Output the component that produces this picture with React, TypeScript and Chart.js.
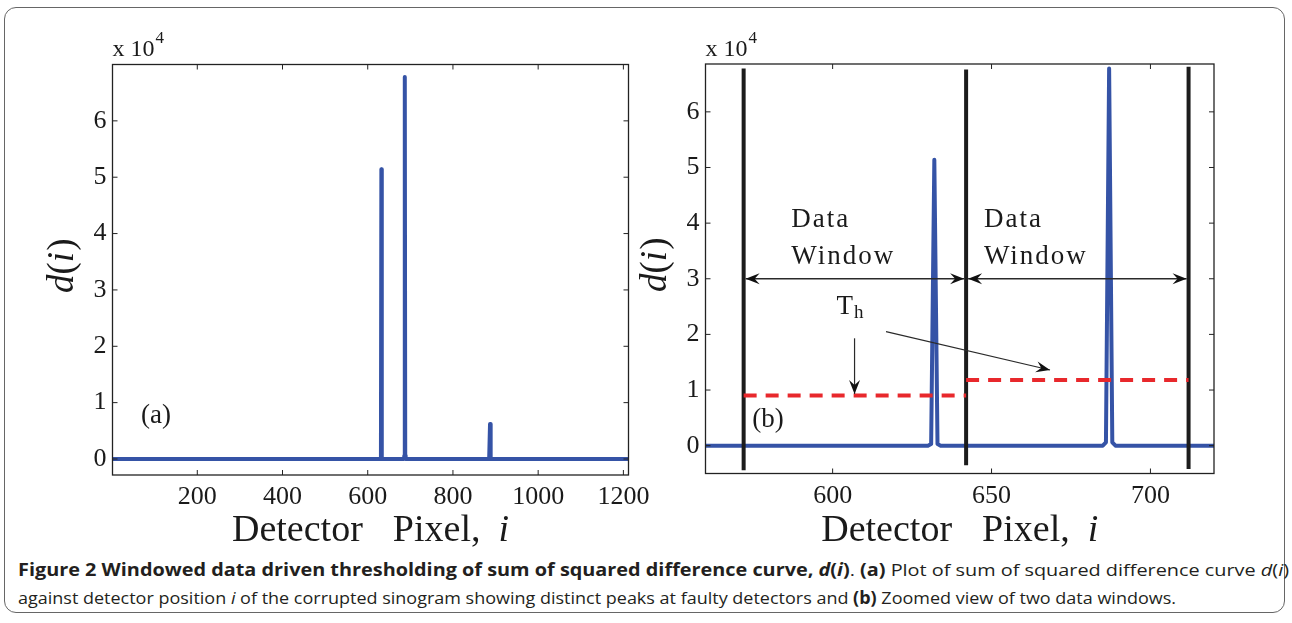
import React, { useEffect, useLayoutEffect, useRef } from "react";
import { Chart, registerables } from "chart.js";
Chart.register(...registerables);

// ---------------- data ----------------
const pixelIndex = [1, 630, 631, 632, 633, 634, 685, 686, 687, 688, 689, 885, 886, 887, 888, 889, 1212];
const sqDiff = [0, 0, 300, 51400, 300, 0, 0, 600, 67800, 600, 0, 0, 0, 6200, 0, 0, 0];

const windowEdges = [572, 642, 712];
const windowTops = [67800, 67600, 68100];
const windowBottoms = [-4400, -3500, -4200];

const thresholdFrom = [572, 642];
const thresholdTo = [642, 712];
const thresholdLevel = [9000, 11800];
const windowArrowLevel = 30000;

const leftXTicks = [200, 400, 600, 800, 1000, 1200];
const rightXTicks = [600, 650, 700];
const yTicks = [0, 10000, 20000, 30000, 40000, 50000, 60000];

const leftXRange = [1, 1212];
const leftYRange = [-2840, 70000];
const rightXRange = [560, 720];
const rightYRange = [-5000, 68600];

// ---------------- styles ----------------
const BLUE = "#3553a6";
const BLACK = "#1c1c1c";
const RED = "#e8282c";
const SERIF = "'Liberation Serif', 'DejaVu Serif', serif";
const CANVAS_H = 548;

type Panel = {
  key: "a" | "b";
  canvasLeft: number;
  width: number;
  area: { l: number; t: number; r: number; b: number };
  xRange: number[];
  yRange: number[];
  xTicks: number[];
};

const panels: Panel[] = [
  { key: "a", canvasLeft: 0, width: 665, area: { l: 112.5, t: 64.5, r: 628.5, b: 475 }, xRange: leftXRange, yRange: leftYRange, xTicks: leftXTicks },
  { key: "b", canvasLeft: 630, width: 662, area: { l: 705.5, t: 64, r: 1214, b: 473.5 }, xRange: rightXRange, yRange: rightYRange, xTicks: rightXTicks },
];

function drawArrowHead(ctx: CanvasRenderingContext2D, x1: number, y1: number, x2: number, y2: number, len = 14, half = 5.5, notch = 5) {
  const a = Math.atan2(y2 - y1, x2 - x1);
  const c = Math.cos(a), s = Math.sin(a);
  const bx = x2 - len * c, by = y2 - len * s;
  ctx.beginPath();
  ctx.moveTo(x2, y2);
  ctx.lineTo(bx - half * s, by + half * c);
  ctx.lineTo(x2 - (len - notch) * c, y2 - (len - notch) * s);
  ctx.lineTo(bx + half * s, by - half * c);
  ctx.closePath();
  ctx.fill();
}

function drawArrow(ctx: CanvasRenderingContext2D, x1: number, y1: number, x2: number, y2: number, both = false) {
  ctx.beginPath();
  ctx.moveTo(x1, y1);
  ctx.lineTo(x2, y2);
  ctx.stroke();
  drawArrowHead(ctx, x1, y1, x2, y2);
  if (both) drawArrowHead(ctx, x2, y2, x1, y1);
}

function drawTextParts(ctx: CanvasRenderingContext2D, parts: { t: string; f: string; gap?: number }[], cx: number, y: number) {
  let total = 0;
  parts.forEach((p) => {
    ctx.font = p.f;
    total += ctx.measureText(p.t).width + (p.gap || 0);
  });
  let x = cx - total / 2;
  ctx.textAlign = "left";
  parts.forEach((p) => {
    ctx.font = p.f;
    ctx.fillText(p.t, x, y);
    x += ctx.measureText(p.t).width + (p.gap || 0);
  });
}

function makeOverlay(panel: Panel) {
  return {
    id: "overlay" + panel.key,
    afterDraw(chart: any) {
      const ctx: CanvasRenderingContext2D = chart.ctx;
      const ca = chart.chartArea;
      const xs = chart.scales.x, ys = chart.scales.y;
      const X = (v: number) => xs.getPixelForValue(v);
      const Y = (v: number) => ys.getPixelForValue(v);
      ctx.save();
      // box
      ctx.strokeStyle = "#222";
      ctx.lineWidth = 1.3;
      ctx.strokeRect(ca.left, ca.top, ca.right - ca.left, ca.bottom - ca.top);
      // inward ticks
      ctx.lineWidth = 1;
      const tl = 5;
      xs.ticks.forEach((t: any) => {
        const px = X(t.value);
        ctx.beginPath();
        ctx.moveTo(px, ca.bottom); ctx.lineTo(px, ca.bottom - tl);
        ctx.moveTo(px, ca.top); ctx.lineTo(px, ca.top + tl);
        ctx.stroke();
      });
      ys.ticks.forEach((t: any) => {
        const py = Y(t.value);
        ctx.beginPath();
        ctx.moveTo(ca.left, py); ctx.lineTo(ca.left + tl, py);
        ctx.moveTo(ca.right, py); ctx.lineTo(ca.right - tl, py);
        ctx.stroke();
      });
      // exponent label
      ctx.fillStyle = "#1a1a1a";
      ctx.textBaseline = "alphabetic";
      ctx.textAlign = "left";
      ctx.font = `24px ${SERIF}`;
      ctx.fillText("x 10", ca.left, 56);
      const w = ctx.measureText("x 10").width;
      ctx.font = `17px ${SERIF}`;
      ctx.fillText("4", ca.left + w + 1, 43);
      // x title
      const cx = (ca.left + ca.right) / 2;
      drawTextParts(
        ctx,
        [
          { t: "Detector", f: `38px ${SERIF}`, gap: 30 },
          { t: "Pixel,", f: `38px ${SERIF}`, gap: 18 },
          { t: "i", f: `italic 38px ${SERIF}` },
        ],
        cx,
        541
      );
      // y title
      ctx.save();
      ctx.translate(ca.left - 49, (ca.top + ca.bottom) / 2 - 4);
      ctx.rotate(-Math.PI / 2);
      ctx.textBaseline = "middle";
      drawTextParts(
        ctx,
        [
          { t: "d", f: `italic 37px ${SERIF}` },
          { t: "(", f: `37px ${SERIF}` },
          { t: "i", f: `italic 37px ${SERIF}`, gap: 1 },
          { t: ")", f: `37px ${SERIF}` },
        ],
        0,
        0
      );
      ctx.restore();

      ctx.textBaseline = "middle";
      ctx.font = `27px ${SERIF}`;
      if (panel.key === "a") {
        ctx.fillText("(a)", X(68), Y(7600));
      } else {
        ctx.fillText("(b)", X(574.7), Y(4600));
        // window labels
        ctx.font = `27px ${SERIF}`;
        (ctx as any).letterSpacing = "2px";
        [587, 647.6].forEach((lx) => {
          ctx.fillText("Data", X(lx), Y(40540));
          ctx.fillText("Window", X(lx), Y(33950));
        });
        (ctx as any).letterSpacing = "0px";
        // T_h
        ctx.font = `27px ${SERIF}`;
        ctx.fillText("T", X(601.2), Y(25000));
        const tw = ctx.measureText("T").width;
        ctx.font = `19px ${SERIF}`;
        ctx.fillText("h", X(601.2) + tw + 1, Y(25000) + 6);
        // double arrows between window edges
        ctx.strokeStyle = "#2a2a2a";
        ctx.fillStyle = "#111";
        ctx.lineWidth = 1.3;
        for (let k = 0; k < windowEdges.length - 1; k++) {
          drawArrow(ctx, X(windowEdges[k]) + 2, Y(windowArrowLevel), X(windowEdges[k + 1]) - 2, Y(windowArrowLevel), true);
        }
        // threshold pointers
        ctx.lineWidth = 1.2;
        drawArrow(ctx, X(606.9), Y(19300), X(606.9), Y(9300));
        drawArrow(ctx, X(616.8), Y(20500), X(668.4), Y(13600));
      }
      ctx.restore();
    },
  };
}

function buildConfig(panel: Panel): any {
  const datasets: any[] = [
    {
      data: pixelIndex.map((px, i) => ({ x: px, y: sqDiff[i] })),
      showLine: true,
      borderColor: BLUE,
      borderWidth: 4,
      borderJoinStyle: "round",
      borderCapStyle: "round",
      pointRadius: 0,
      tension: 0,
      order: 3,
    },
  ];
  if (panel.key === "b") {
    windowEdges.forEach((e, i) => {
      datasets.push({
        data: [
          { x: e, y: windowBottoms[i] },
          { x: e, y: windowTops[i] },
        ],
        showLine: true,
        borderColor: BLACK,
        borderWidth: 4,
        pointRadius: 0,
        order: 2,
      });
    });
    thresholdLevel.forEach((lv, i) => {
      datasets.push({
        data: [
          { x: thresholdFrom[i], y: lv },
          { x: thresholdTo[i], y: lv },
        ],
        showLine: true,
        borderColor: RED,
        borderWidth: 4,
        borderDash: [13, 9],
        pointRadius: 0,
        order: 1,
      });
    });
  }
  const a = panel.area;
  const tickFont = { family: SERIF, size: 26 };
  return {
    type: "scatter",
    data: { datasets },
    options: {
      animation: false,
      responsive: false,
      maintainAspectRatio: false,
      events: [],
      layout: {
        padding: {
          left: a.l - panel.canvasLeft - 40,
          top: a.t,
          right: panel.canvasLeft + panel.width - a.r,
          bottom: CANVAS_H - a.b - 40,
        },
      },
      plugins: { legend: { display: false }, tooltip: { enabled: false } },
      scales: {
        x: {
          type: "linear",
          min: panel.xRange[0],
          max: panel.xRange[1],
          afterBuildTicks: (s: any) => {
            s.ticks = panel.xTicks.map((v) => ({ value: v }));
          },
          afterFit: (s: any) => {
            s.height = 40;
            s.paddingLeft = 0;
            s.paddingRight = 0;
          },
          grid: { display: false, drawTicks: false, tickLength: 0 },
          border: { display: false },
          ticks: { font: tickFont, color: "#1a1a1a", padding: 7, maxRotation: 0, autoSkip: false, callback: (v: number) => String(v) },
        },
        y: {
          type: "linear",
          min: panel.yRange[0],
          max: panel.yRange[1],
          afterBuildTicks: (s: any) => {
            s.ticks = yTicks.map((v) => ({ value: v }));
          },
          afterFit: (s: any) => {
            s.width = 40;
            s.paddingTop = 0;
            s.paddingBottom = 0;
          },
          grid: { display: false, drawTicks: false, tickLength: 0 },
          border: { display: false },
          ticks: { font: tickFont, color: "#1a1a1a", padding: 6, autoSkip: false, callback: (v: number) => String(v / 10000) },
        },
      },
    },
    plugins: [makeOverlay(panel)],
  };
}

function PanelChart({ panel }: { panel: Panel }) {
  const ref = useRef<HTMLCanvasElement>(null);
  useEffect(() => {
    const chart = new Chart(ref.current as HTMLCanvasElement, buildConfig(panel));
    return () => chart.destroy();
  }, [panel]);
  return (
    <canvas
      ref={ref}
      width={panel.width}
      height={CANVAS_H}
      style={{ position: "absolute", left: panel.canvasLeft, top: 0, width: panel.width, height: CANVAS_H }}
    />
  );
}

function CaptionLine({ children, top, target }: { children: React.ReactNode; top: number; target: number }) {
  const ref = useRef<HTMLDivElement>(null);
  useLayoutEffect(() => {
    const el = ref.current;
    if (!el) return;
    el.style.transform = "none";
    const w = el.getBoundingClientRect().width;
    if (w > 0) el.style.transform = `scaleX(${target / w})`;
  }, [target]);
  return (
    <div
      ref={ref}
      style={{
        position: "absolute",
        left: 18,
        top,
        whiteSpace: "nowrap",
        display: "inline-block",
        transformOrigin: "0 0",
        fontFamily: "'Open Sans', 'Noto Sans', sans-serif",
        fontSize: 17,
        lineHeight: "22px",
        color: "#231f20",
      }}
    >
      {children}
    </div>
  );
}

export default function App() {
  return (
    <div style={{ position: "absolute", left: 0, top: 0, width: 1292, height: 623, background: "#fff", overflow: "hidden" }}>
      <div
        style={{
          position: "absolute",
          left: 4,
          top: 7,
          width: 1281,
          height: 606,
          border: "1.5px solid #666",
          borderRadius: 12,
          boxSizing: "border-box",
        }}
      />
      {panels.map((p) => (
        <PanelChart key={p.key} panel={p} />
      ))}
      <CaptionLine top={559} target={1271}>
        <b>
          Figure 2 Windowed data driven thresholding of sum of squared difference curve, <i>d</i>(<i>i</i>)
        </b>
        . <b>(a)</b> Plot of sum of squared difference curve <i>d</i>(<i>i</i>)
      </CaptionLine>
      <CaptionLine top={587} target={1158}>
        against detector position <i>i</i> of the corrupted sinogram showing distinct peaks at faulty detectors and <b>(b)</b> Zoomed view
        of two data windows.
      </CaptionLine>
    </div>
  );
}
